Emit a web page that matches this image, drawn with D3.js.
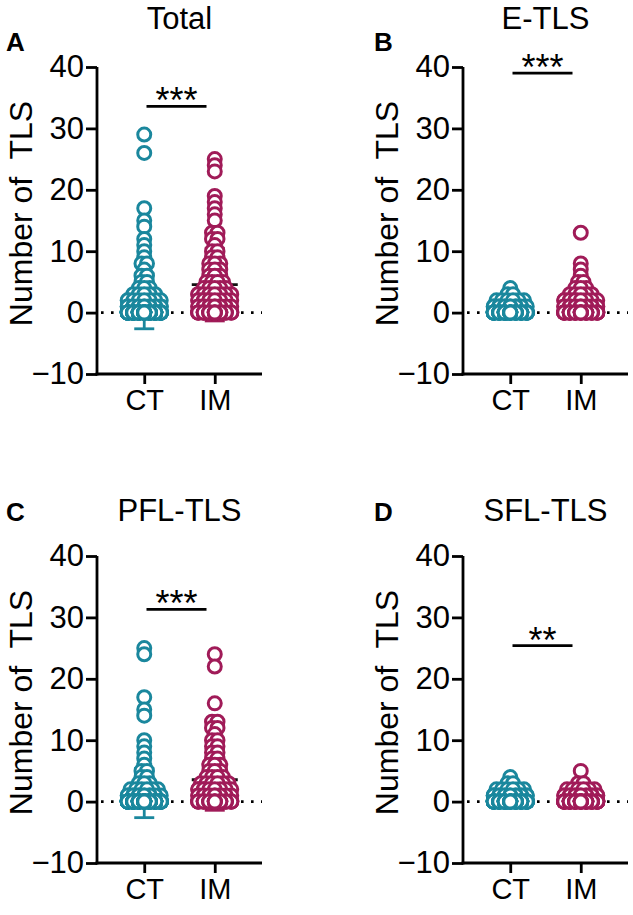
<!DOCTYPE html>
<html>
<head>
<meta charset="utf-8">
<script src="https://cdn.jsdelivr.net/npm/d3@7"></script>
<style>
  body { margin: 0; background: #fff; }
  text { font-family: "Liberation Sans", Arial, sans-serif; }
</style>
</head>
<body>
<div id="container"></div>
<script>
// DATA
const categories = ["CT", "IM"];
const yTicks = [-10, 0, 10, 20, 30, 40];
const panelLetters = ["A", "B", "C", "D"];
const panelTitles = ["Total", "E-TLS", "PFL-TLS", "SFL-TLS"];
const sigLabels = ["***", "***", "***", "**"];
const sigLevels = [33.6, 39, 31.3, 25.4];

// value -> number of patients
const totalCtValues = [29, 26, 17, 15, 14, 12, 11, 10, 9, 8, 7, 6, 5, 4, 3, 2, 1, 0];
const totalCtCounts = [1, 1, 1, 1, 1, 1, 1, 1, 1, 2, 1, 2, 2, 3, 5, 8, 15, 83];
const totalImValues = [25, 24, 23, 19, 18, 17, 16, 15, 13, 12, 11, 10, 9, 8, 7, 6, 5, 4, 3, 2, 1, 0];
const totalImCounts = [1, 1, 1, 1, 1, 1, 1, 1, 2, 2, 1, 2, 2, 3, 3, 3, 4, 5, 8, 10, 12, 26];

const eCtValues = [4, 3, 2, 1, 0];
const eCtCounts = [1, 2, 6, 12, 60];
const eImValues = [13, 8, 7, 6, 5, 4, 3, 2, 1, 0];
const eImCounts = [1, 1, 1, 1, 2, 3, 5, 10, 14, 40];

const pflCtValues = [25, 24, 17, 15, 14, 10, 9, 8, 7, 6, 5, 4, 3, 2, 1, 0];
const pflCtCounts = [1, 1, 1, 1, 1, 1, 1, 1, 1, 1, 2, 2, 3, 6, 12, 98];
const pflImValues = [24, 22, 16, 13, 12, 11, 10, 9, 8, 7, 6, 5, 4, 3, 2, 1, 0];
const pflImCounts = [1, 1, 1, 2, 2, 1, 2, 2, 2, 2, 3, 3, 4, 6, 9, 12, 28];

const sflCtValues = [4, 3, 2, 1, 0];
const sflCtCounts = [1, 2, 6, 15, 70];
const sflImValues = [5, 3, 2, 1, 0];
const sflImCounts = [1, 2, 6, 14, 60];

const panelData = [
  [[totalCtValues, totalCtCounts], [totalImValues, totalImCounts]],
  [[eCtValues, eCtCounts], [eImValues, eImCounts]],
  [[pflCtValues, pflCtCounts], [pflImValues, pflImCounts]],
  [[sflCtValues, sflCtCounts], [sflImValues, sflImCounts]],
];

// VIEW CONSTANTS
const width = 633;
const height = 915;
const colors = { CT: "#1a879d", IM: "#a01b58" };
const fontFamily = '"Liberation Sans", Arial, sans-serif';
const plotW = 165;
const plotH = 307;
const pointR = 6.5;
const slotGap = 5.5;
const maxSlots = 7;
const layout = [
  { axisX: 97, top: 67, titleY: 29, letterX: 6, letterY: 51 },
  { axisX: 463, top: 67, titleY: 29, letterX: 374, letterY: 51 },
  { axisX: 97, top: 556, titleY: 521, letterX: 6, letterY: 521 },
  { axisX: 463, top: 556, titleY: 521, letterX: 374, letterY: 521 },
];

const expand = ([vals, counts]) => vals.flatMap((v, i) => d3.range(counts[i]).map(() => v));

// spread equal values sideways into a few slots; extra points stack on the same slots
const swarm = (vals) => {
  const pts = [];
  d3.groups(vals, (v) => v)
    .sort((a, b) => b[0] - a[0])
    .forEach(([v, arr]) => {
      const k = Math.min(arr.length, maxSlots);
      const row = arr.map((_, i) => ({ v, dx: ((i % k) - (k - 1) / 2) * slotGap }));
      row.sort((a, b) => Math.abs(b.dx) - Math.abs(a.dx));
      pts.push(...row);
    });
  return pts;
};

// CHART SVG
const chart = d3
  .create("svg")
  .attr("width", width)
  .attr("height", height)
  .attr("viewBox", `0 0 ${width} ${height}`);

chart.append("rect").attr("width", width).attr("height", height).attr("fill", "#fff");

const drawPanel = (idx) => {
  const L = layout[idx];
  const g = chart.append("g").attr("class", "panel");

  const yScale = d3.scaleLinear().domain([-10, 40]).range([L.top + plotH, L.top]);
  const xScale = d3
    .scalePoint()
    .domain(categories)
    .range([L.axisX, L.axisX + plotW])
    .padding(0.67);

  // dotted zero line
  g.append("line")
    .attr("x1", L.axisX + 4)
    .attr("x2", L.axisX + plotW)
    .attr("y1", yScale(0))
    .attr("y2", yScale(0))
    .attr("stroke", "#000")
    .attr("stroke-width", 2.8)
    .attr("stroke-dasharray", "2.6,7.4");

  categories.forEach((cat, ci) => {
    const vals = expand(panelData[idx][ci]);
    const mean = d3.mean(vals);
    const sd = d3.deviation(vals);
    const cx = xScale(cat);
    const col = colors[cat];

    // SD whisker + caps
    g.append("line")
      .attr("x1", cx).attr("x2", cx)
      .attr("y1", yScale(mean - sd)).attr("y2", yScale(mean + sd))
      .attr("stroke", col).attr("stroke-width", 2.8);
    [mean - sd, mean + sd].forEach((v) => {
      g.append("line")
        .attr("x1", cx - 10).attr("x2", cx + 10)
        .attr("y1", yScale(v)).attr("y2", yScale(v))
        .attr("stroke", col).attr("stroke-width", 2.8);
    });
    // mean
    g.append("line")
      .attr("x1", cx - 23).attr("x2", cx + 23)
      .attr("y1", yScale(mean)).attr("y2", yScale(mean))
      .attr("stroke", "#111").attr("stroke-width", 2.8);

    g.append("g")
      .selectAll("circle")
      .data(swarm(vals))
      .join("circle")
      .attr("cx", (d) => cx + d.dx)
      .attr("cy", (d) => yScale(d.v))
      .attr("r", pointR)
      .attr("fill", "#fff")
      .attr("stroke", col)
      .attr("stroke-width", 3);
  });

  // AXES
  const yAxis = d3.axisLeft(yScale).tickValues(yTicks).tickSize(11).tickSizeOuter(0).tickPadding(2);
  const xAxis = d3.axisBottom(xScale).tickSize(10).tickSizeOuter(0).tickPadding(5);

  const gy = g.append("g").attr("transform", `translate(${L.axisX},0)`).call(yAxis);
  const gx = g.append("g").attr("transform", `translate(0,${L.top + plotH})`).call(xAxis);
  gy.attr("font-size", 31);
  gx.attr("font-size", 29);
  [gy, gx].forEach((a) => {
    a.attr("font-family", fontFamily);
    a.selectAll("path, line").attr("stroke", "#000").attr("stroke-width", 2.8);
    a.selectAll("text").attr("fill", "#000");
  });
  gx.select(".domain").attr("d", `M${L.axisX - 1.4},0H${L.axisX + plotW}`);
  gy.select(".domain").attr("d", `M0,${L.top}V${L.top + plotH + 1.4}`);

  // y label
  g.append("text")
    .attr("transform", `translate(${L.axisX - 65},${L.top + plotH / 2 - 7}) rotate(-90)`)
    .attr("text-anchor", "middle")
    .attr("font-size", 32)
    .style("white-space", "pre")
    .text("Number of  TLS");

  // title + panel letter
  g.append("text")
    .attr("x", L.axisX + plotW / 2)
    .attr("y", L.titleY)
    .attr("text-anchor", "middle")
    .attr("font-size", 31)
    .text(panelTitles[idx]);
  g.append("text")
    .attr("x", L.letterX)
    .attr("y", L.letterY)
    .attr("font-size", 26)
    .attr("font-weight", "bold")
    .text(panelLetters[idx]);

  // significance
  const mid = (xScale("CT") + xScale("IM")) / 2 - 3;
  const sy = yScale(sigLevels[idx]);
  g.append("line")
    .attr("x1", mid - 30).attr("x2", mid + 30)
    .attr("y1", sy).attr("y2", sy)
    .attr("stroke", "#000").attr("stroke-width", 2.8);
  g.append("text")
    .attr("x", mid)
    .attr("y", sy + 7)
    .attr("text-anchor", "middle")
    .attr("font-size", 36)
    .text(sigLabels[idx]);
};

panelTitles.forEach((_, i) => drawPanel(i));

document.getElementById("container").append(chart.node());
</script>
</body>
</html>
